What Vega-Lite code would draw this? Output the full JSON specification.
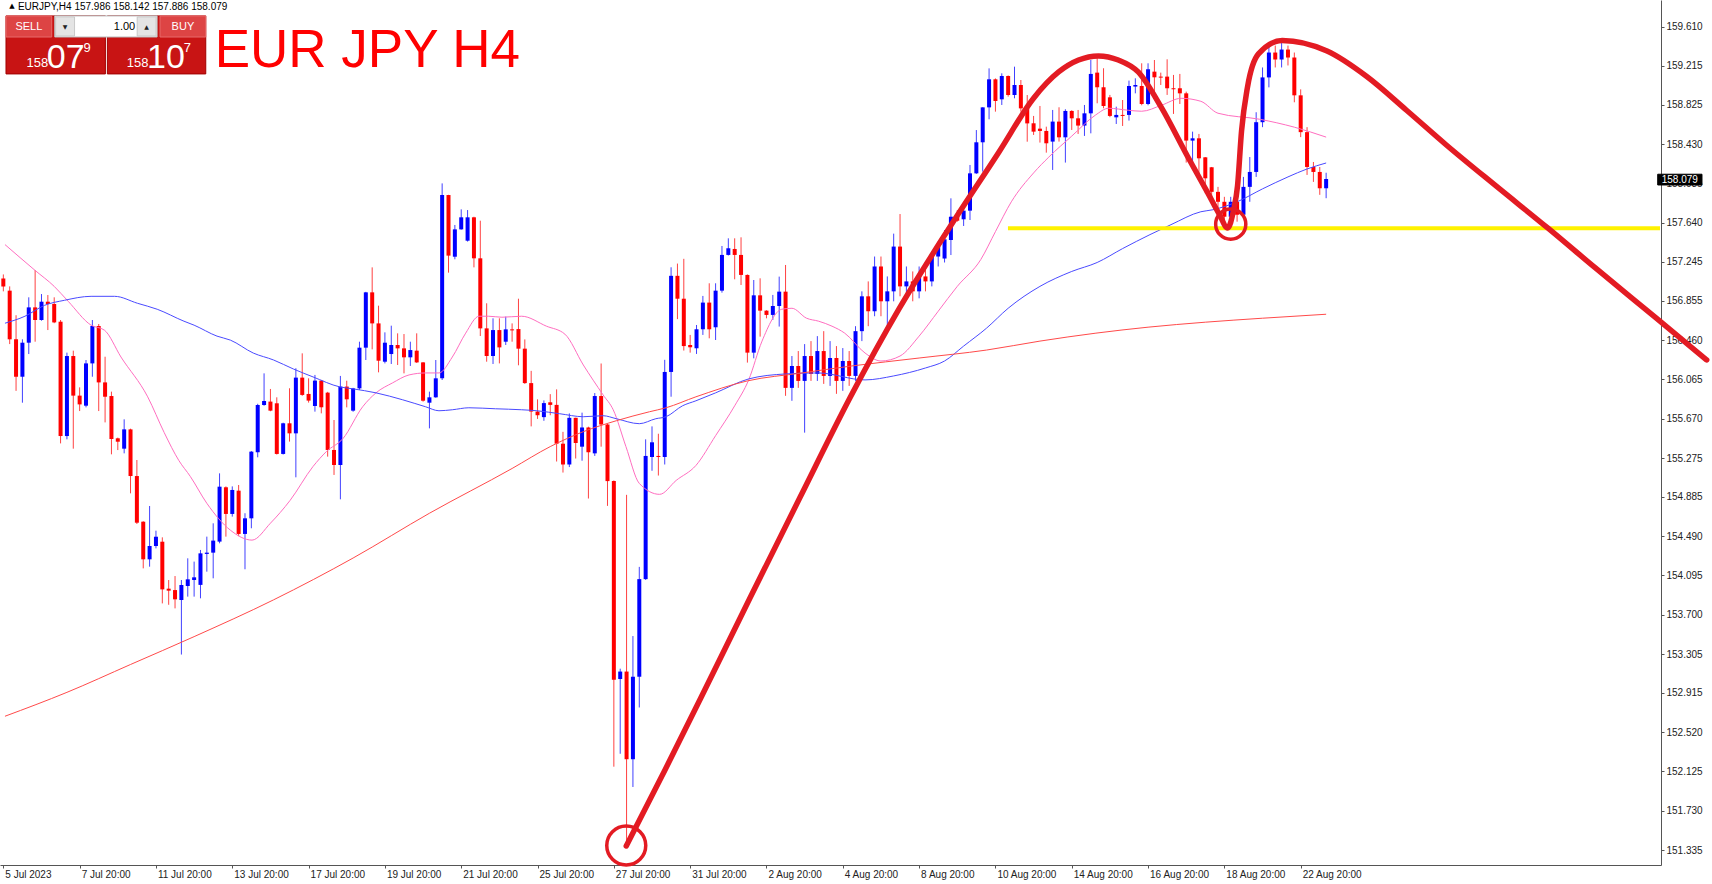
{
  "$schema": "https://vega.github.io/schema/vega-lite/v6.json",
  "width": 1661,
  "height": 865,
  "autosize": {"type": "none"},
  "padding": {"left": 0, "top": 0, "right": 51, "bottom": 19},
  "background": "white",
  "config": {"view": {"stroke": null}, "font": "Liberation Sans"},
  "layer": [
    {
      "data": {"name": "candles", "values": [
        {"i":0,"o":157.08,"h":157.12,"l":156.95,"c":157.0},
        {"i":1,"o":156.957,"h":157.0,"l":156.42,"c":156.468},
        {"i":2,"o":156.468,"h":156.71,"l":155.95,"c":156.092},
        {"i":3,"o":156.092,"h":156.468,"l":155.831,"c":156.434},
        {"i":4,"o":156.434,"h":156.89,"l":156.32,"c":156.789},
        {"i":5,"o":156.789,"h":157.164,"l":156.444,"c":156.662},
        {"i":6,"o":156.662,"h":156.923,"l":156.655,"c":156.846},
        {"i":7,"o":156.846,"h":156.913,"l":156.561,"c":156.823},
        {"i":8,"o":156.823,"h":156.89,"l":156.63,"c":156.638},
        {"i":9,"o":156.645,"h":156.662,"l":155.422,"c":155.496},
        {"i":10,"o":155.496,"h":156.334,"l":155.463,"c":156.3},
        {"i":11,"o":156.3,"h":156.354,"l":155.369,"c":155.902},
        {"i":12,"o":155.902,"h":155.985,"l":155.747,"c":155.814},
        {"i":13,"o":155.801,"h":156.26,"l":155.784,"c":156.226},
        {"i":14,"o":156.226,"h":156.662,"l":156.092,"c":156.602},
        {"i":15,"o":156.602,"h":156.622,"l":155.747,"c":156.035},
        {"i":16,"o":156.035,"h":156.293,"l":155.633,"c":155.891},
        {"i":17,"o":155.898,"h":155.942,"l":155.312,"c":155.466},
        {"i":18,"o":155.473,"h":155.48,"l":155.355,"c":155.439},
        {"i":19,"o":155.369,"h":155.664,"l":155.322,"c":155.563},
        {"i":20,"o":155.563,"h":155.57,"l":154.92,"c":155.094},
        {"i":21,"o":155.094,"h":155.255,"l":154.612,"c":154.625},
        {"i":22,"o":154.635,"h":154.64,"l":154.166,"c":154.257},
        {"i":23,"o":154.257,"h":154.793,"l":154.183,"c":154.391},
        {"i":24,"o":154.391,"h":154.545,"l":154.367,"c":154.484},
        {"i":25,"o":154.434,"h":154.478,"l":153.814,"c":153.955},
        {"i":26,"o":153.962,"h":154.049,"l":153.8,"c":153.942},
        {"i":27,"o":153.948,"h":154.089,"l":153.764,"c":153.855},
        {"i":28,"o":153.848,"h":154.049,"l":153.3,"c":153.999},
        {"i":29,"o":153.989,"h":154.267,"l":153.882,"c":154.056},
        {"i":30,"o":154.049,"h":154.234,"l":153.882,"c":154.076},
        {"i":31,"o":154.0,"h":154.351,"l":153.865,"c":154.317},
        {"i":32,"o":154.311,"h":154.485,"l":154.133,"c":154.324},
        {"i":33,"o":154.324,"h":154.619,"l":154.066,"c":154.445},
        {"i":34,"o":154.435,"h":155.121,"l":154.418,"c":154.987},
        {"i":35,"o":154.981,"h":154.99,"l":154.485,"c":154.713},
        {"i":36,"o":154.713,"h":154.99,"l":154.686,"c":154.954},
        {"i":37,"o":154.947,"h":155.004,"l":154.49,"c":154.512},
        {"i":38,"o":154.512,"h":154.72,"l":154.157,"c":154.669},
        {"i":39,"o":154.669,"h":155.345,"l":154.569,"c":155.339},
        {"i":40,"o":155.333,"h":155.82,"l":155.282,"c":155.808},
        {"i":41,"o":155.808,"h":156.126,"l":155.8,"c":155.848},
        {"i":42,"o":155.842,"h":155.969,"l":155.745,"c":155.751},
        {"i":43,"o":155.825,"h":155.885,"l":155.31,"c":155.316},
        {"i":44,"o":155.316,"h":155.63,"l":155.31,"c":155.624},
        {"i":45,"o":155.624,"h":155.976,"l":155.44,"c":155.523},
        {"i":46,"o":155.523,"h":156.177,"l":155.081,"c":156.083},
        {"i":47,"o":156.083,"h":156.327,"l":155.9,"c":155.909},
        {"i":48,"o":155.919,"h":156.076,"l":155.832,"c":155.852},
        {"i":49,"o":155.798,"h":156.11,"l":155.741,"c":156.053},
        {"i":50,"o":156.053,"h":156.06,"l":155.724,"c":155.785},
        {"i":51,"o":155.932,"h":155.94,"l":155.289,"c":155.356},
        {"i":52,"o":155.356,"h":155.657,"l":155.105,"c":155.205},
        {"i":53,"o":155.205,"h":156.1,"l":154.86,"c":155.993},
        {"i":54,"o":155.993,"h":156.052,"l":155.784,"c":155.865},
        {"i":55,"o":155.751,"h":155.98,"l":155.74,"c":155.975},
        {"i":56,"o":155.975,"h":156.444,"l":155.96,"c":156.384},
        {"i":57,"o":156.384,"h":156.945,"l":156.26,"c":156.94},
        {"i":58,"o":156.94,"h":157.191,"l":156.367,"c":156.628},
        {"i":59,"o":156.628,"h":156.806,"l":156.136,"c":156.253},
        {"i":60,"o":156.243,"h":156.538,"l":156.226,"c":156.434},
        {"i":61,"o":156.32,"h":156.605,"l":156.22,"c":156.411},
        {"i":62,"o":156.411,"h":156.528,"l":156.21,"c":156.377},
        {"i":63,"o":156.377,"h":156.521,"l":156.126,"c":156.287},
        {"i":64,"o":156.287,"h":156.444,"l":156.2,"c":156.36},
        {"i":65,"o":156.354,"h":156.528,"l":156.23,"c":156.236},
        {"i":66,"o":156.236,"h":156.24,"l":155.841,"c":155.851},
        {"i":67,"o":155.831,"h":155.942,"l":155.573,"c":155.885},
        {"i":68,"o":155.885,"h":156.26,"l":155.88,"c":156.076},
        {"i":69,"o":156.076,"h":158.035,"l":156.059,"c":157.918},
        {"i":70,"o":157.918,"h":157.92,"l":157.138,"c":157.309},
        {"i":71,"o":157.298,"h":157.617,"l":157.272,"c":157.573},
        {"i":72,"o":157.573,"h":157.774,"l":157.57,"c":157.694},
        {"i":73,"o":157.459,"h":157.767,"l":157.45,"c":157.694},
        {"i":74,"o":157.694,"h":157.7,"l":157.191,"c":157.282},
        {"i":75,"o":157.282,"h":157.66,"l":156.501,"c":156.578},
        {"i":76,"o":156.578,"h":156.83,"l":156.243,"c":156.3},
        {"i":77,"o":156.3,"h":156.679,"l":156.22,"c":156.561},
        {"i":78,"o":156.561,"h":156.679,"l":156.226,"c":156.387},
        {"i":79,"o":156.444,"h":156.696,"l":156.411,"c":156.568},
        {"i":80,"o":156.568,"h":156.628,"l":156.444,"c":156.558},
        {"i":81,"o":156.571,"h":156.876,"l":156.207,"c":156.374},
        {"i":82,"o":156.374,"h":156.467,"l":156.02,"c":156.028},
        {"i":83,"o":156.028,"h":156.151,"l":155.593,"c":155.742},
        {"i":84,"o":155.742,"h":155.865,"l":155.668,"c":155.705},
        {"i":85,"o":155.686,"h":155.854,"l":155.649,"c":155.827},
        {"i":86,"o":155.835,"h":155.917,"l":155.705,"c":155.809},
        {"i":87,"o":155.809,"h":155.965,"l":155.24,"c":155.419},
        {"i":88,"o":155.419,"h":155.538,"l":155.129,"c":155.21},
        {"i":89,"o":155.21,"h":155.723,"l":155.184,"c":155.679},
        {"i":90,"o":155.679,"h":155.68,"l":155.27,"c":155.426},
        {"i":91,"o":155.389,"h":155.731,"l":155.248,"c":155.582},
        {"i":92,"o":155.582,"h":155.59,"l":154.868,"c":155.333},
        {"i":93,"o":155.322,"h":155.928,"l":155.296,"c":155.898},
        {"i":94,"o":155.898,"h":156.225,"l":155.389,"c":155.612},
        {"i":95,"o":155.612,"h":155.62,"l":154.794,"c":155.043},
        {"i":96,"o":155.043,"h":155.05,"l":152.173,"c":153.047},
        {"i":97,"o":153.054,"h":153.158,"l":152.303,"c":153.129},
        {"i":98,"o":153.129,"h":154.905,"l":151.386,"c":152.248},
        {"i":99,"o":152.248,"h":153.486,"l":151.969,"c":153.077},
        {"i":100,"o":153.077,"h":154.181,"l":152.768,"c":154.058},
        {"i":101,"o":154.058,"h":155.463,"l":154.05,"c":155.296},
        {"i":102,"o":155.285,"h":155.593,"l":155.147,"c":155.433},
        {"i":103,"o":155.296,"h":155.519,"l":155.099,"c":155.285},
        {"i":104,"o":155.285,"h":156.262,"l":155.21,"c":156.14},
        {"i":105,"o":156.14,"h":157.192,"l":155.891,"c":157.106},
        {"i":106,"o":157.106,"h":157.229,"l":156.671,"c":156.876},
        {"i":107,"o":156.876,"h":157.277,"l":156.355,"c":156.4},
        {"i":108,"o":156.411,"h":156.512,"l":156.334,"c":156.388},
        {"i":109,"o":156.378,"h":156.612,"l":156.321,"c":156.569},
        {"i":110,"o":156.569,"h":156.904,"l":156.512,"c":156.837},
        {"i":111,"o":156.837,"h":157.031,"l":156.478,"c":156.569},
        {"i":112,"o":156.589,"h":157.031,"l":156.461,"c":156.957},
        {"i":113,"o":156.957,"h":157.406,"l":156.937,"c":157.316},
        {"i":114,"o":157.316,"h":157.483,"l":157.31,"c":157.383},
        {"i":115,"o":157.376,"h":157.483,"l":157.071,"c":157.316},
        {"i":116,"o":157.316,"h":157.493,"l":157.014,"c":157.115},
        {"i":117,"o":157.115,"h":157.12,"l":156.234,"c":156.334},
        {"i":118,"o":156.334,"h":157.064,"l":156.277,"c":156.91},
        {"i":119,"o":156.91,"h":157.081,"l":156.495,"c":156.756},
        {"i":120,"o":156.756,"h":156.76,"l":156.679,"c":156.713},
        {"i":121,"o":156.713,"h":156.914,"l":156.663,"c":156.803},
        {"i":122,"o":156.803,"h":157.098,"l":156.596,"c":156.947},
        {"i":123,"o":156.947,"h":157.215,"l":155.9,"c":155.98},
        {"i":124,"o":155.98,"h":156.3,"l":155.85,"c":156.2},
        {"i":125,"o":156.2,"h":156.35,"l":155.98,"c":156.05},
        {"i":126,"o":156.05,"h":156.42,"l":155.53,"c":156.3},
        {"i":127,"o":156.3,"h":156.45,"l":156.05,"c":156.12},
        {"i":128,"o":156.12,"h":156.5,"l":156.05,"c":156.35},
        {"i":129,"o":156.35,"h":156.55,"l":156.02,"c":156.1},
        {"i":130,"o":156.1,"h":156.45,"l":156.0,"c":156.28},
        {"i":131,"o":156.28,"h":156.4,"l":155.92,"c":156.05},
        {"i":132,"o":156.05,"h":156.38,"l":155.95,"c":156.25},
        {"i":133,"o":156.25,"h":156.35,"l":156.0,"c":156.1},
        {"i":134,"o":156.1,"h":156.6,"l":156.05,"c":156.55},
        {"i":135,"o":156.55,"h":156.95,"l":156.45,"c":156.9},
        {"i":136,"o":156.9,"h":157.05,"l":156.6,"c":156.75},
        {"i":137,"o":156.75,"h":157.3,"l":156.7,"c":157.2},
        {"i":138,"o":157.2,"h":157.3,"l":156.7,"c":156.85},
        {"i":139,"o":156.85,"h":157.1,"l":156.6,"c":156.95},
        {"i":140,"o":156.95,"h":157.53,"l":156.85,"c":157.4},
        {"i":141,"o":157.4,"h":157.727,"l":156.9,"c":157.0},
        {"i":142,"o":157.0,"h":157.2,"l":156.9,"c":157.05},
        {"i":143,"o":157.05,"h":157.15,"l":156.85,"c":156.95},
        {"i":144,"o":156.95,"h":157.2,"l":156.88,"c":157.1},
        {"i":145,"o":157.1,"h":157.25,"l":156.95,"c":157.05},
        {"i":146,"o":157.05,"h":157.35,"l":157.0,"c":157.3},
        {"i":147,"o":157.3,"h":157.45,"l":157.2,"c":157.4},
        {"i":148,"o":157.28,"h":157.566,"l":157.24,"c":157.473},
        {"i":149,"o":157.466,"h":157.885,"l":157.315,"c":157.7},
        {"i":150,"o":157.7,"h":157.767,"l":157.65,"c":157.66},
        {"i":151,"o":157.674,"h":157.841,"l":157.607,"c":157.761},
        {"i":152,"o":157.761,"h":158.22,"l":157.667,"c":158.136},
        {"i":153,"o":158.136,"h":158.571,"l":158.13,"c":158.448},
        {"i":154,"o":158.448,"h":158.8,"l":158.153,"c":158.799},
        {"i":155,"o":158.799,"h":159.191,"l":158.679,"c":159.081},
        {"i":156,"o":159.081,"h":159.09,"l":158.756,"c":158.863},
        {"i":157,"o":158.88,"h":159.141,"l":158.823,"c":159.114},
        {"i":158,"o":159.114,"h":159.12,"l":158.907,"c":158.923},
        {"i":159,"o":158.923,"h":159.208,"l":158.89,"c":159.024},
        {"i":160,"o":159.024,"h":159.074,"l":158.756,"c":158.789},
        {"i":161,"o":158.789,"h":158.923,"l":158.454,"c":158.638},
        {"i":162,"o":158.639,"h":158.713,"l":158.522,"c":158.555},
        {"i":163,"o":158.585,"h":158.813,"l":158.445,"c":158.562},
        {"i":164,"o":158.562,"h":158.605,"l":158.344,"c":158.438},
        {"i":165,"o":158.455,"h":158.773,"l":158.17,"c":158.656},
        {"i":166,"o":158.656,"h":158.8,"l":158.455,"c":158.498},
        {"i":167,"o":158.498,"h":158.78,"l":158.244,"c":158.763},
        {"i":168,"o":158.763,"h":158.77,"l":158.572,"c":158.689},
        {"i":169,"o":158.689,"h":158.773,"l":158.532,"c":158.616},
        {"i":170,"o":158.616,"h":158.823,"l":158.512,"c":158.739},
        {"i":171,"o":158.739,"h":159.275,"l":158.538,"c":159.135},
        {"i":172,"o":159.148,"h":159.292,"l":158.84,"c":159.001},
        {"i":173,"o":159.001,"h":159.192,"l":158.79,"c":158.813},
        {"i":174,"o":158.9,"h":158.924,"l":158.7,"c":158.713},
        {"i":175,"o":158.699,"h":158.806,"l":158.632,"c":158.723},
        {"i":176,"o":158.723,"h":158.873,"l":158.612,"c":158.713},
        {"i":177,"o":158.723,"h":159.068,"l":158.666,"c":159.014},
        {"i":178,"o":159.008,"h":159.091,"l":158.94,"c":159.024},
        {"i":179,"o":159.014,"h":159.242,"l":158.82,"c":158.833},
        {"i":180,"o":158.833,"h":159.242,"l":158.82,"c":159.182},
        {"i":181,"o":159.158,"h":159.275,"l":158.947,"c":159.101},
        {"i":182,"o":159.108,"h":159.148,"l":159.024,"c":159.098},
        {"i":183,"o":159.108,"h":159.282,"l":158.924,"c":158.991},
        {"i":184,"o":158.991,"h":159.125,"l":158.733,"c":158.981},
        {"i":185,"o":158.991,"h":159.135,"l":158.833,"c":158.94},
        {"i":186,"o":158.94,"h":158.957,"l":158.244,"c":158.465},
        {"i":187,"o":158.465,"h":158.555,"l":158.237,"c":158.488},
        {"i":188,"o":158.488,"h":158.532,"l":158.137,"c":158.287},
        {"i":189,"o":158.297,"h":158.3,"l":157.935,"c":158.086},
        {"i":190,"o":158.197,"h":158.2,"l":157.9,"c":157.95},
        {"i":191,"o":157.95,"h":158.0,"l":157.7,"c":157.85},
        {"i":192,"o":157.85,"h":157.9,"l":157.62,"c":157.7},
        {"i":193,"o":157.7,"h":157.9,"l":157.6,"c":157.85},
        {"i":194,"o":157.85,"h":157.95,"l":157.65,"c":157.72},
        {"i":195,"o":157.72,"h":158.1,"l":157.68,"c":158.0},
        {"i":196,"o":158.0,"h":158.3,"l":157.85,"c":158.15},
        {"i":197,"o":158.15,"h":158.75,"l":158.1,"c":158.65},
        {"i":198,"o":158.65,"h":159.2,"l":158.6,"c":159.1},
        {"i":199,"o":159.1,"h":159.42,"l":159.0,"c":159.35},
        {"i":200,"o":159.35,"h":159.42,"l":159.2,"c":159.28},
        {"i":201,"o":159.28,"h":159.45,"l":159.2,"c":159.38},
        {"i":202,"o":159.38,"h":159.42,"l":159.22,"c":159.3},
        {"i":203,"o":159.3,"h":159.35,"l":158.85,"c":158.92},
        {"i":204,"o":158.92,"h":158.98,"l":158.5,"c":158.55},
        {"i":205,"o":158.55,"h":158.6,"l":158.12,"c":158.2},
        {"i":206,"o":158.2,"h":158.25,"l":158.05,"c":158.15},
        {"i":207,"o":158.15,"h":158.2,"l":157.92,"c":157.986},
        {"i":208,"o":157.986,"h":158.142,"l":157.886,"c":158.079}
      ]},
      "layer": [
        {
          "mark": {"type": "rule", "strokeWidth": 1, "opacity": 0.75},
          "encoding": {
            "x": {"field": "i", "type": "quantitative",
              "scale": {"domain": [0.2626, 259.87], "nice": false, "zero": false},
              "axis": {"values": [0,12,24,36,48,60,72,84,96,108,120,132,144,156,168,180,192,204],
                "labelExpr": "['5 Jul 2023','7 Jul 20:00','11 Jul 20:00','13 Jul 20:00','17 Jul 20:00','19 Jul 20:00','21 Jul 20:00','25 Jul 20:00','27 Jul 20:00','31 Jul 20:00','2 Aug 20:00','4 Aug 20:00','8 Aug 20:00','10 Aug 20:00','14 Aug 20:00','16 Aug 20:00','18 Aug 20:00','22 Aug 20:00'][round(datum.value/12)]",
                "title": null, "grid": false, "labelAlign": "left", "labelOffset": 1.5, "labelBaseline": "top",
                "labelPadding": 1, "tickSize": 3, "labelFontSize": 10, "labelColor": "#222222",
                "labelFont": "Liberation Sans", "domainColor": "#555555", "tickColor": "#555555",
                "labelOverlap": false, "labelBound": false, "labelFlush": false}},
            "y": {"field": "l", "type": "quantitative",
              "scale": {"domain": [151.185, 159.878], "nice": false, "zero": false},
              "axis": {"orient": "right", "values": [151.335,151.73,152.125,152.52,152.915,153.305,153.7,154.095,154.49,154.885,155.275,155.67,156.065,156.46,156.855,157.245,157.64,158.035,158.43,158.825,159.215,159.61],
                "format": ".3f", "title": null, "grid": false, "tickSize": 3, "labelPadding": 2,
                "labelFontSize": 10, "labelColor": "#222222", "labelFont": "Liberation Sans",
                "domainColor": "#555555", "tickColor": "#555555", "labelOverlap": false, "labelBound": false, "labelFlush": false}},
            "y2": {"field": "h"},
            "color": {"condition": {"test": "datum.c >= datum.o", "value": "#0000ff"}, "value": "#ff0000"}
          }
        },
        {
          "mark": {"type": "bar", "size": 4, "orient": "vertical"},
          "encoding": {
            "x": {"field": "i", "type": "quantitative"},
            "y": {"field": "o", "type": "quantitative"},
            "y2": {"field": "c"},
            "color": {"condition": {"test": "datum.c >= datum.o", "value": "#0000ff"}, "value": "#ff0000"}
          }
        }
      ]
    },
    {
      "data": {"name": "ma", "values": [
        {"ma":"fast","i":0.26,"p":157.42},{"ma":"fast","i":5,"p":157.16},{"ma":"fast","i":8,"p":157.0},{"ma":"fast","i":10.2,"p":156.85},{"ma":"fast","i":13.8,"p":156.61},{"ma":"fast","i":15.9,"p":156.56},{"ma":"fast","i":18.5,"p":156.29},{"ma":"fast","i":22.7,"p":155.89},{"ma":"fast","i":25.3,"p":155.53},{"ma":"fast","i":27.6,"p":155.25},{"ma":"fast","i":29.4,"p":155.09},{"ma":"fast","i":32,"p":154.82},{"ma":"fast","i":35.7,"p":154.55},{"ma":"fast","i":39.1,"p":154.45},{"ma":"fast","i":42,"p":154.62},{"ma":"fast","i":45.1,"p":154.85},{"ma":"fast","i":48.7,"p":155.19},{"ma":"fast","i":50.8,"p":155.34},{"ma":"fast","i":53.4,"p":155.47},{"ma":"fast","i":56.5,"p":155.79},{"ma":"fast","i":58.6,"p":155.93},{"ma":"fast","i":61.2,"p":156.03},{"ma":"fast","i":63.8,"p":156.11},{"ma":"fast","i":66.4,"p":156.13},{"ma":"fast","i":68.5,"p":156.13},{"ma":"fast","i":70.6,"p":156.29},{"ma":"fast","i":72.7,"p":156.53},{"ma":"fast","i":74.8,"p":156.7},{"ma":"fast","i":76.3,"p":156.7},{"ma":"fast","i":78.4,"p":156.69},{"ma":"fast","i":81.5,"p":156.7},{"ma":"fast","i":85.4,"p":156.6},{"ma":"fast","i":88.3,"p":156.52},{"ma":"fast","i":91.2,"p":156.21},{"ma":"fast","i":94.3,"p":155.91},{"ma":"fast","i":95.9,"p":155.76},{"ma":"fast","i":97.9,"p":155.39},{"ma":"fast","i":100,"p":155.02},{"ma":"fast","i":103.2,"p":154.91},{"ma":"fast","i":105.8,"p":155.05},{"ma":"fast","i":108.9,"p":155.2},{"ma":"fast","i":112,"p":155.5},{"ma":"fast","i":115,"p":155.8},{"ma":"fast","i":117.2,"p":156.06},{"ma":"fast","i":119.3,"p":156.45},{"ma":"fast","i":122.4,"p":156.77},{"ma":"fast","i":124,"p":156.78},{"ma":"fast","i":126.3,"p":156.68},{"ma":"fast","i":128.2,"p":156.65},{"ma":"fast","i":130.3,"p":156.6},{"ma":"fast","i":132.3,"p":156.53},{"ma":"fast","i":135.5,"p":156.33},{"ma":"fast","i":138,"p":156.25},{"ma":"fast","i":141,"p":156.3},{"ma":"fast","i":144,"p":156.5},{"ma":"fast","i":147,"p":156.75},{"ma":"fast","i":150,"p":157.0},{"ma":"fast","i":153.7,"p":157.27},{"ma":"fast","i":156,"p":157.55},{"ma":"fast","i":158.5,"p":157.85},{"ma":"fast","i":162,"p":158.14},{"ma":"fast","i":164.4,"p":158.3},{"ma":"fast","i":168,"p":158.51},{"ma":"fast","i":171.7,"p":158.72},{"ma":"fast","i":173.8,"p":158.79},{"ma":"fast","i":176.9,"p":158.77},{"ma":"fast","i":179,"p":158.76},{"ma":"fast","i":182.1,"p":158.82},{"ma":"fast","i":185.2,"p":158.89},{"ma":"fast","i":188.3,"p":158.86},{"ma":"fast","i":191,"p":158.74},{"ma":"fast","i":197.5,"p":158.68},{"ma":"fast","i":203,"p":158.6},{"ma":"fast","i":208,"p":158.5},
        {"ma":"mid","i":0.26,"p":156.63},{"ma":"mid","i":3.4,"p":156.7},{"ma":"mid","i":6.5,"p":156.81},{"ma":"mid","i":9.6,"p":156.86},{"ma":"mid","i":13.8,"p":156.9},{"ma":"mid","i":17.5,"p":156.9},{"ma":"mid","i":21.1,"p":156.83},{"ma":"mid","i":24.2,"p":156.77},{"ma":"mid","i":28.4,"p":156.65},{"ma":"mid","i":30,"p":156.61},{"ma":"mid","i":33.6,"p":156.5},{"ma":"mid","i":35.7,"p":156.46},{"ma":"mid","i":39.3,"p":156.33},{"ma":"mid","i":42.5,"p":156.26},{"ma":"mid","i":45.6,"p":156.17},{"ma":"mid","i":48.7,"p":156.09},{"ma":"mid","i":52.9,"p":155.99},{"ma":"mid","i":55,"p":155.97},{"ma":"mid","i":58.6,"p":155.93},{"ma":"mid","i":62.8,"p":155.86},{"ma":"mid","i":66.4,"p":155.79},{"ma":"mid","i":68.5,"p":155.75},{"ma":"mid","i":70.6,"p":155.76},{"ma":"mid","i":73.2,"p":155.78},{"ma":"mid","i":77.4,"p":155.77},{"ma":"mid","i":81.5,"p":155.76},{"ma":"mid","i":83.9,"p":155.75},{"ma":"mid","i":87.5,"p":155.72},{"ma":"mid","i":91.2,"p":155.69},{"ma":"mid","i":94.3,"p":155.7},{"ma":"mid","i":96.4,"p":155.67},{"ma":"mid","i":100,"p":155.62},{"ma":"mid","i":102.6,"p":155.67},{"ma":"mid","i":104.2,"p":155.69},{"ma":"mid","i":106.8,"p":155.8},{"ma":"mid","i":108.9,"p":155.85},{"ma":"mid","i":112,"p":155.93},{"ma":"mid","i":117.2,"p":156.07},{"ma":"mid","i":123,"p":156.12},{"ma":"mid","i":128.1,"p":156.13},{"ma":"mid","i":135.5,"p":156.06},{"ma":"mid","i":140,"p":156.1},{"ma":"mid","i":145,"p":156.18},{"ma":"mid","i":148,"p":156.25},{"ma":"mid","i":151,"p":156.4},{"ma":"mid","i":154.6,"p":156.58},{"ma":"mid","i":158,"p":156.78},{"ma":"mid","i":163,"p":157.0},{"ma":"mid","i":168,"p":157.15},{"ma":"mid","i":172,"p":157.24},{"ma":"mid","i":176,"p":157.38},{"ma":"mid","i":180.3,"p":157.52},{"ma":"mid","i":183.6,"p":157.62},{"ma":"mid","i":188.3,"p":157.75},{"ma":"mid","i":190.2,"p":157.77},{"ma":"mid","i":194,"p":157.85},{"ma":"mid","i":198,"p":157.98},{"ma":"mid","i":202,"p":158.1},{"ma":"mid","i":205,"p":158.18},{"ma":"mid","i":208,"p":158.24},
        {"ma":"slow","i":0.26,"p":152.68},{"ma":"slow","i":10,"p":152.92},{"ma":"slow","i":20,"p":153.2},{"ma":"slow","i":30,"p":153.48},{"ma":"slow","i":42.5,"p":153.85},{"ma":"slow","i":55,"p":154.27},{"ma":"slow","i":67,"p":154.72},{"ma":"slow","i":80,"p":155.17},{"ma":"slow","i":86,"p":155.39},{"ma":"slow","i":91.2,"p":155.54},{"ma":"slow","i":96.4,"p":155.65},{"ma":"slow","i":101.6,"p":155.74},{"ma":"slow","i":104.2,"p":155.78},{"ma":"slow","i":108.9,"p":155.89},{"ma":"slow","i":117,"p":156.05},{"ma":"slow","i":125.6,"p":156.13},{"ma":"slow","i":133.4,"p":156.2},{"ma":"slow","i":144,"p":156.28},{"ma":"slow","i":154.6,"p":156.36},{"ma":"slow","i":163,"p":156.45},{"ma":"slow","i":171.8,"p":156.53},{"ma":"slow","i":180,"p":156.59},{"ma":"slow","i":189,"p":156.64},{"ma":"slow","i":198,"p":156.68},{"ma":"slow","i":208,"p":156.72}
      ]},
      "mark": {"type": "line", "strokeWidth": 1, "interpolate": "monotone"},
      "encoding": {
        "x": {"field": "i", "type": "quantitative", "title": null},
        "y": {"field": "p", "type": "quantitative", "title": null},
        "color": {"field": "ma", "type": "nominal", "legend": null,
          "scale": {"domain": ["fast", "mid", "slow"], "range": ["#ff6ec0", "#4a4aff", "#ff4a4a"]}}
      }
    },
    {
      "data": {"name": "yellowline", "values": [{"i1": 157.97, "i2": 260.5, "p": 157.584}]},
      "mark": {"type": "rule", "color": "#fff200", "strokeWidth": 4, "clip": false},
      "encoding": {
        "x": {"field": "i1", "type": "quantitative", "title": null},
        "x2": {"field": "i2"},
        "y": {"field": "p", "type": "quantitative", "title": null}
      }
    },
    {
      "data": {"name": "curve", "values": [
        {"k":1,"i":97.95,"p":151.376},{"k":2,"i":104.04,"p":152.14},{"k":3,"i":109.67,"p":152.863},{"k":4,"i":117.48,"p":153.878},{"k":5,"i":125.3,"p":154.883},{"k":6,"i":133.11,"p":155.878},{"k":7,"i":140.93,"p":156.783},{"k":8,"i":148.74,"p":157.587},{"k":9,"i":156.56,"p":158.351},{"k":10,"i":162.03,"p":158.894},{"k":11,"i":165.94,"p":159.155},{"k":12,"i":169.07,"p":159.275},{"k":13,"i":172.19,"p":159.316},{"k":14,"i":175.32,"p":159.275},{"k":15,"i":178.45,"p":159.155},{"k":16,"i":182.04,"p":158.803},{"k":17,"i":186.26,"p":158.3},{"k":18,"i":189.39,"p":157.939},{"k":19,"i":191.26,"p":157.718},{"k":20,"i":192.51,"p":157.587},{"k":21,"i":193.45,"p":157.768},{"k":22,"i":194.07,"p":158.01},{"k":23,"i":194.7,"p":158.561},{"k":24,"i":195.64,"p":159.004},{"k":25,"i":197.36,"p":159.336},{"k":26,"i":201.1,"p":159.471},{"k":27,"i":208.14,"p":159.365},{"k":28,"i":214.39,"p":159.109},{"k":29,"i":220.64,"p":158.77},{"k":30,"i":226.9,"p":158.421},{"k":31,"i":234.71,"p":158.009},{"k":32,"i":242.84,"p":157.587},{"k":33,"i":250.34,"p":157.185},{"k":34,"i":259.87,"p":156.683},{"k":35,"i":267.84,"p":156.261}
      ]},
      "mark": {"type": "line", "color": "#e31b23", "strokeWidth": 5.5, "interpolate": "monotone", "clip": false, "strokeCap": "round"},
      "encoding": {
        "x": {"field": "i", "type": "quantitative", "title": null},
        "y": {"field": "p", "type": "quantitative", "title": null},
        "order": {"field": "k", "type": "quantitative"}
      }
    },
    {
      "data": {"name": "circles", "values": [
        {"i": 97.95, "p": 151.381, "r": "big"},
        {"i": 193.0, "p": 157.625, "r": "small"}
      ]},
      "mark": {"type": "point", "shape": "circle", "filled": false, "stroke": "#e31b23", "strokeWidth": 3.5, "opacity": 1, "clip": false},
      "encoding": {
        "x": {"field": "i", "type": "quantitative", "title": null},
        "y": {"field": "p", "type": "quantitative", "title": null},
        "size": {"field": "r", "type": "nominal", "legend": null, "scale": {"domain": ["big", "small"], "range": [1520, 908]}}
      }
    },
    {
      "data": {"name": "panelRects", "values": [
        {"x1": 0.419, "x2": 16.05, "y1": 159.718, "y2": 159.135, "kind": "btn"},
        {"x1": 16.36, "x2": 31.83, "y1": 159.718, "y2": 159.135, "kind": "btn"},
        {"x1": 0.419, "x2": 7.609, "y1": 159.718, "y2": 159.506, "kind": "top"},
        {"x1": 24.64, "x2": 31.83, "y1": 159.718, "y2": 159.506, "kind": "top"},
        {"x1": 8.08, "x2": 24.18, "y1": 159.718, "y2": 159.506, "kind": "qty"},
        {"x1": 8.23, "x2": 11.2, "y1": 159.708, "y2": 159.516, "kind": "arrow"},
        {"x1": 21.05, "x2": 24.02, "y1": 159.708, "y2": 159.516, "kind": "arrow"},
        {"x1": 260.14, "x2": 267.1, "y1": 158.127, "y2": 158.019, "kind": "bid"}
      ]},
      "mark": {"type": "rect", "strokeWidth": 1, "clip": false},
      "encoding": {
        "x": {"field": "x1", "type": "quantitative", "title": null},
        "x2": {"field": "x2"},
        "y": {"field": "y1", "type": "quantitative", "title": null},
        "y2": {"field": "y2"},
        "fill": {"field": "kind", "type": "nominal", "legend": null,
          "scale": {"domain": ["btn", "top", "qty", "arrow", "bid"], "range": ["#c81414", "#dd4444", "#ffffff", "#e4e4e4", "#000000"]}},
        "stroke": {"field": "kind", "type": "nominal", "legend": null,
          "scale": {"domain": ["btn", "top", "qty", "arrow", "bid"], "range": ["#a00000", "#e86a6a", "#b8b8b8", "#c8c8c8", "#000000"]}}
      }
    },
    {
      "data": {"name": "panelSmall", "values": [
        {"i": 4.01, "p": 159.607, "t": "SELL"},
        {"i": 28.24, "p": 159.607, "t": "BUY"}
      ]},
      "mark": {"type": "text", "font": "Liberation Sans", "fontSize": 11, "color": "#ffffff", "align": "center", "baseline": "middle", "clip": false},
      "encoding": {
        "x": {"field": "i", "type": "quantitative", "title": null},
        "y": {"field": "p", "type": "quantitative", "title": null},
        "text": {"field": "t"}
      }
    },
    {
      "data": {"name": "panelArrows", "values": [
        {"i": 9.72, "p": 159.607, "t": "▼"},
        {"i": 22.54, "p": 159.607, "t": "▲"}
      ]},
      "mark": {"type": "text", "font": "DejaVu Sans", "fontSize": 6, "color": "#222222", "align": "center", "baseline": "middle"},
      "encoding": {
        "x": {"field": "i", "type": "quantitative", "title": null},
        "y": {"field": "p", "type": "quantitative", "title": null},
        "text": {"field": "t"}
      }
    },
    {
      "data": {"name": "panelQty", "values": [{"i": 20.74, "p": 159.607, "t": "1.00"}]},
      "mark": {"type": "text", "font": "Liberation Sans", "fontSize": 11, "color": "#000000", "align": "right", "baseline": "middle"},
      "encoding": {
        "x": {"field": "i", "type": "quantitative", "title": null},
        "y": {"field": "p", "type": "quantitative", "title": null},
        "text": {"field": "t"}
      }
    },
    {
      "data": {"name": "panelFig", "values": [
        {"i": 5.34, "p": 159.205, "t": "158"},
        {"i": 21.13, "p": 159.205, "t": "158"}
      ]},
      "mark": {"type": "text", "font": "Liberation Sans", "fontSize": 13, "color": "#ffffff", "align": "center", "baseline": "alphabetic"},
      "encoding": {
        "x": {"field": "i", "type": "quantitative", "title": null},
        "y": {"field": "p", "type": "quantitative", "title": null},
        "text": {"field": "t"}
      }
    },
    {
      "data": {"name": "panelBig", "values": [
        {"i": 9.8, "p": 159.195, "t": "07"},
        {"i": 25.58, "p": 159.195, "t": "10"}
      ]},
      "mark": {"type": "text", "font": "Liberation Sans", "fontSize": 34, "color": "#ffffff", "align": "center", "baseline": "alphabetic"},
      "encoding": {
        "x": {"field": "i", "type": "quantitative", "title": null},
        "y": {"field": "p", "type": "quantitative", "title": null},
        "text": {"field": "t"}
      }
    },
    {
      "data": {"name": "panelSup", "values": [
        {"i": 13.16, "p": 159.356, "t": "9"},
        {"i": 28.94, "p": 159.356, "t": "7"}
      ]},
      "mark": {"type": "text", "font": "Liberation Sans", "fontSize": 13, "color": "#ffffff", "align": "center", "baseline": "alphabetic"},
      "encoding": {
        "x": {"field": "i", "type": "quantitative", "title": null},
        "y": {"field": "p", "type": "quantitative", "title": null},
        "text": {"field": "t"}
      }
    },
    {
      "data": {"name": "header", "values": [{"i": 2.29, "p": 159.778, "t": "EURJPY,H4  157.986 158.142 157.886 158.079"}]},
      "mark": {"type": "text", "font": "Liberation Sans", "fontSize": 10, "color": "#000000", "align": "left", "baseline": "alphabetic"},
      "encoding": {
        "x": {"field": "i", "type": "quantitative", "title": null},
        "y": {"field": "p", "type": "quantitative", "title": null},
        "text": {"field": "t"}
      }
    },
    {
      "data": {"name": "headerTri", "values": [{"i": 1.36, "p": 159.815, "t": "▲"}]},
      "mark": {"type": "text", "font": "DejaVu Sans", "fontSize": 7, "color": "#000000", "align": "center", "baseline": "middle"},
      "encoding": {
        "x": {"field": "i", "type": "quantitative", "title": null},
        "y": {"field": "p", "type": "quantitative", "title": null},
        "text": {"field": "t"}
      }
    },
    {
      "data": {"name": "bigTitle", "values": [{"i": 33.24, "p": 159.208, "t": "EUR JPY H4"}]},
      "mark": {"type": "text", "font": "Liberation Sans", "fontSize": 53, "color": "#ff0000", "align": "left", "baseline": "alphabetic"},
      "encoding": {
        "x": {"field": "i", "type": "quantitative", "title": null},
        "y": {"field": "p", "type": "quantitative", "title": null},
        "text": {"field": "t"}
      }
    },
    {
      "data": {"name": "bidLabel", "values": [{"i": 260.77, "p": 158.072, "t": "158.079"}]},
      "mark": {"type": "text", "font": "Liberation Sans", "fontSize": 10, "color": "#ffffff", "align": "left", "baseline": "middle", "clip": false},
      "encoding": {
        "x": {"field": "i", "type": "quantitative", "title": null},
        "y": {"field": "p", "type": "quantitative", "title": null},
        "text": {"field": "t"}
      }
    }
  ]
}
